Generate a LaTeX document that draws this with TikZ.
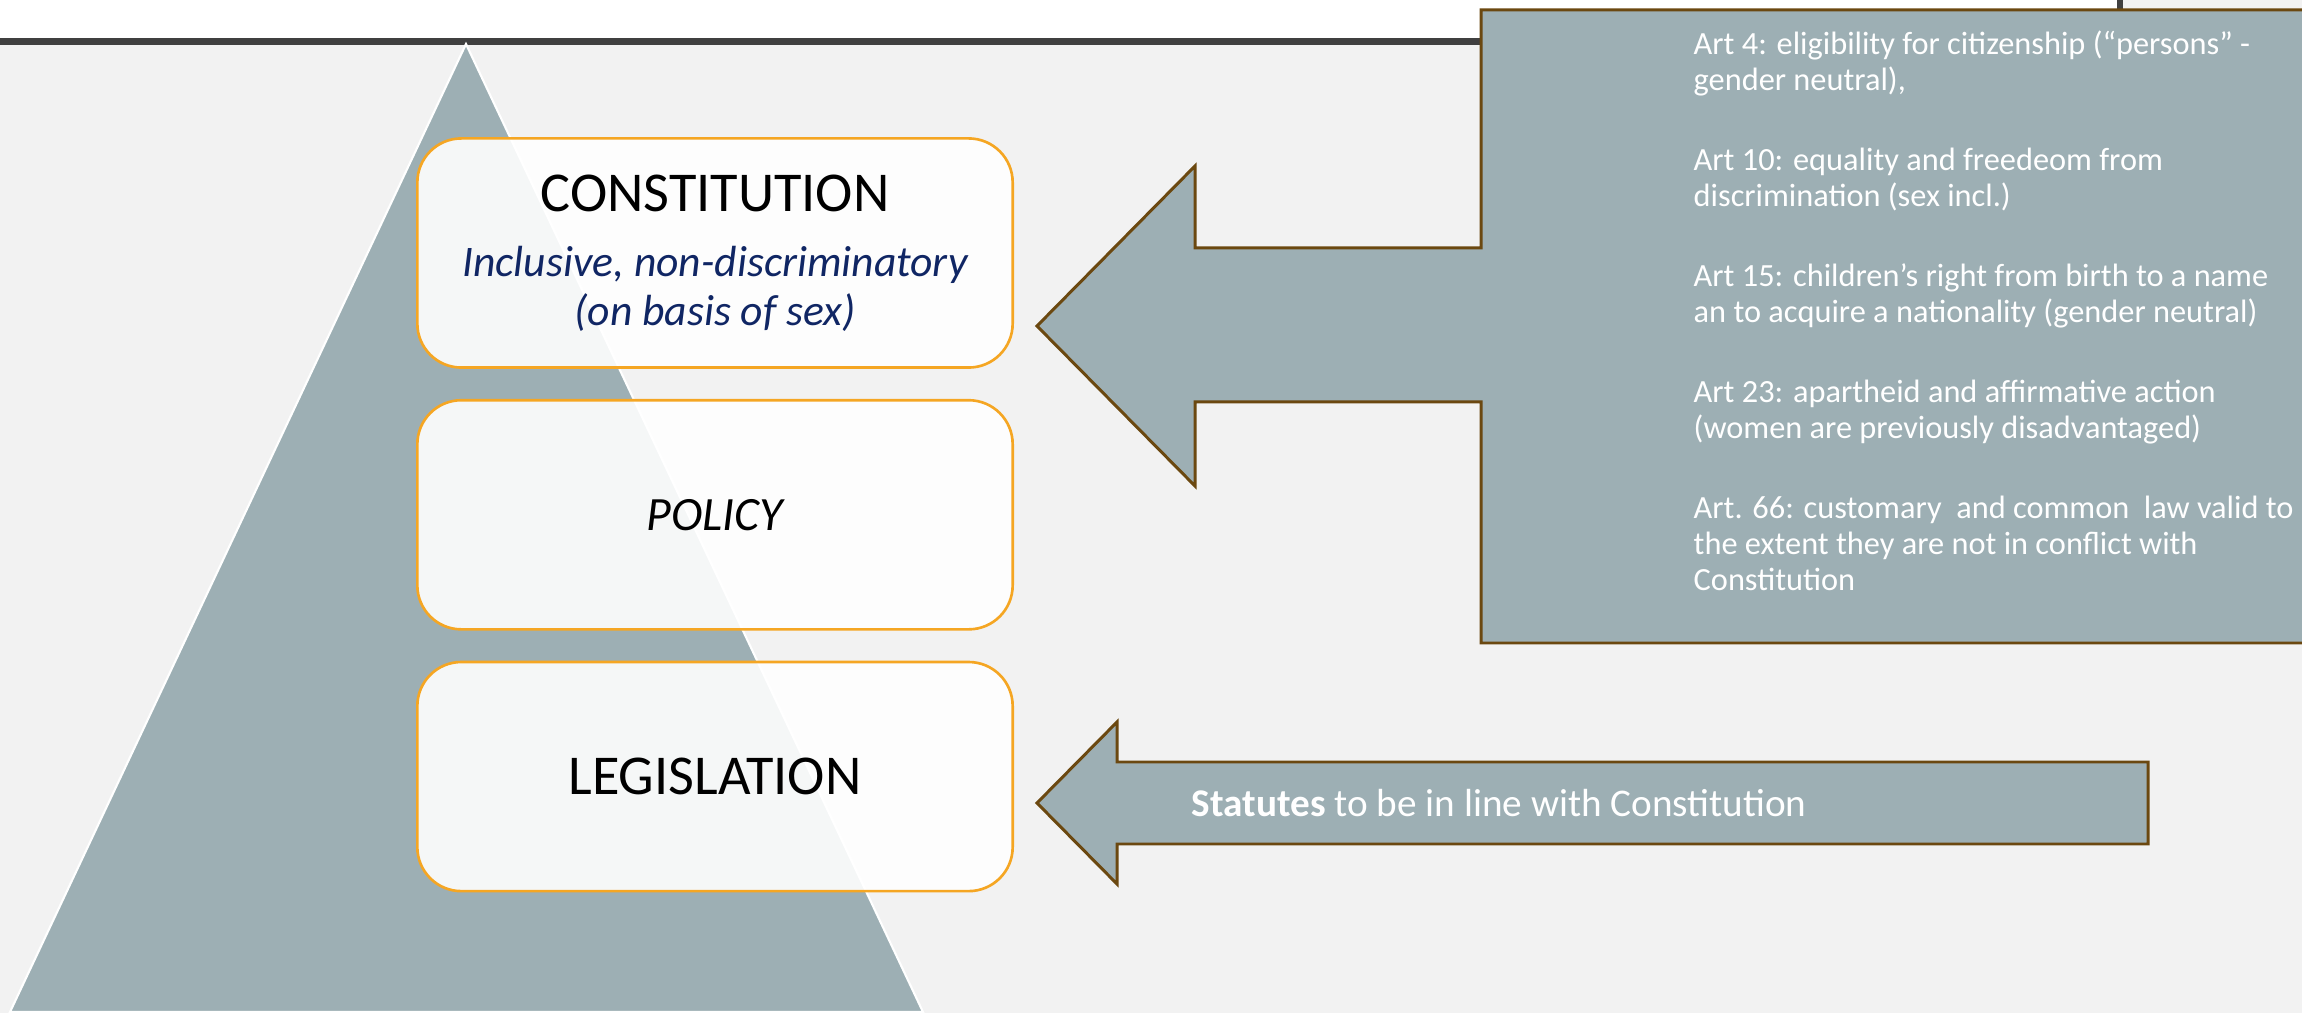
\documentclass[tikz,border=0pt]{standalone}
\usepackage{fontspec}
\setmainfont{Carlito}
\usetikzlibrary{positioning}

\definecolor{slate}{RGB}{157,175,180}
\definecolor{tierline}{RGB}{245,166,35}
\definecolor{umber}{RGB}{107,72,16}
\definecolor{navy}{RGB}{16,38,100}
\definecolor{pagegray}{RGB}{242,242,242}
\definecolor{rulegray}{RGB}{64,64,64}

\begin{document}
\begin{tikzpicture}[x=0.01cm,y=-0.01cm,
    tier/.style={draw=tierline,line width=0.75pt,fill=white,fill opacity=0.9,text opacity=1,
      rounded corners=0.44cm,minimum width=5.95cm,minimum height=2.29cm,align=center,
      font=\fontsize{16}{19.6}\selectfont},
    block/.style={fill=slate,draw=umber,line width=0.85pt},
    note/.style={text=white,inner sep=0pt}]
    \useasboundingbox (0,0) rectangle (2302,1013);
    \clip (0,0) rectangle (2302,1013);
    % slide
    \fill[pagegray] (0,0) rectangle (2302,1013);
    \fill[white] (0,0) rectangle (2117,38);
    \fill[rulegray] (0,38) rectangle (2302,45);
    \fill[rulegray] (2117,0) rectangle (2123,45);
    % pyramid
    \filldraw[fill=slate,draw=white,line width=0.6pt] (466,44) -- (923,1012) -- (10,1012) -- cycle;
    % tiers
    \node[tier] (constitution) at (715,253) {CONSTITUTION\\[-1pt]
      {\color{navy}\itshape\fontsize{12.4}{14}\selectfont Inclusive, non-discriminatory}\\[-5.7pt]
      {\color{navy}\itshape\fontsize{12.4}{14}\selectfont (on basis of sex)}};
    \node[tier,below=0.3cm of constitution,font=\fontsize{13.6}{16}\selectfont] (policy) {\itshape POLICY};
    \node[tier,below=0.3cm of policy] (legislation) {LEGISLATION};
    % constitution arrow
    \draw[block] (1037,326) -- (1195,166) -- (1195,248) -- (1481,248) -- (1481,10) -- (2340,10)
      -- (2340,643) -- (1481,643) -- (1481,402) -- (1195,402) -- (1195,486) -- cycle;
    \node[note,anchor=north west,align=left,font=\fontsize{9.2}{10.2}\selectfont] (articles) at (1693,30)
      {Art 4: eligibility for citizenship (“persons” -\\
       gender neutral),\\[12.6pt]
       Art 10: equality and freedeom from\\
       discrimination (sex incl.)\\[12.6pt]
       Art 15: children’s right from birth to a name\\
       an to acquire a nationality (gender neutral)\\[12.6pt]
       Art 23: apartheid and affirmative action\\
       (women are previously disadvantaged)\\[12.6pt]
       Art. 66: customary\ \ and common\ \ law valid to\\
       the extent they are not in conflict with\\
       Constitution};
    % legislation arrow
    \draw[block] (1037,803) -- (1117,722) -- (1117,762) -- (2148,762) -- (2148,844)
      -- (1117,844) -- (1117,884) -- cycle;
    \node[note,anchor=base west,font=\fontsize{11.15}{13}\selectfont] (statutes) at (1191,817)
      {\textbf{Statutes} to be in line with Constitution};
\end{tikzpicture}
\end{document}
